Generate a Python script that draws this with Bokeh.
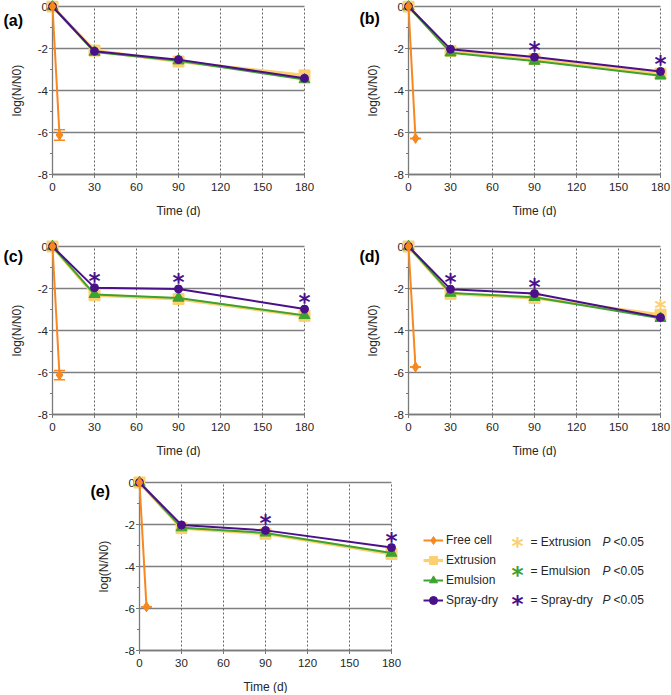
import math
from bokeh.plotting import figure
from bokeh.models import Range1d, ColumnDataSource, Whisker, TeeHead, Legend, LegendItem
from bokeh.layouts import column, row
from bokeh.core.properties import value
from bokeh.embed import file_html
from bokeh.resources import INLINE

# ---------------- data ----------------
TIME = [0, 30, 90, 180]
FREE_TIME = [0, 5]
XTICKS = [0, 30, 60, 90, 120, 150, 180]
YTICKS = [0, -2, -4, -6, -8]
YMINOR = [-1, -3, -5, -7]
SERIES = ["Free cell", "Extrusion", "Emulsion", "Spray-dry"]
PANELS = ["(a)", "(b)", "(c)", "(d)", "(e)"]
XLABEL = "Time (d)"
YLABEL = "log(N/N0)"

A_FREE = [0, -6.12]
A_FREE_ERR = [0, 0.25]
A_EXTR = [0, -2.10, -2.62, -3.28]
A_EMUL = [0, -2.17, -2.58, -3.48]
A_SPRAY = [0, -2.13, -2.53, -3.42]
A_STAR_TIMES = []
A_STAR_SERIES = []

B_FREE = [0, -6.28]
B_FREE_ERR = [0, 0.0]
B_EXTR = [0, -2.12, -2.50, -3.20]
B_EMUL = [0, -2.20, -2.60, -3.30]
B_SPRAY = [0, -2.03, -2.41, -3.09]
B_STAR_TIMES = [90, 180]
B_STAR_SERIES = ["Spray-dry", "Spray-dry"]

C_FREE = [0, -6.12]
C_FREE_ERR = [0, 0.22]
C_EXTR = [0, -2.32, -2.50, -3.30]
C_EMUL = [0, -2.28, -2.45, -3.28]
C_SPRAY = [0, -1.96, -2.02, -2.98]
C_STAR_TIMES = [30, 90, 180]
C_STAR_SERIES = ["Spray-dry", "Spray-dry", "Spray-dry"]

D_FREE = [0, -5.74]
D_FREE_ERR = [0, 0.0]
D_EXTR = [0, -2.25, -2.45, -3.25]
D_EMUL = [0, -2.22, -2.42, -3.42]
D_SPRAY = [0, -2.03, -2.24, -3.38]
D_STAR_TIMES = [30, 90, 180]
D_STAR_SERIES = ["Spray-dry", "Spray-dry", "Extrusion"]

E_FREE = [0, -5.92]
E_FREE_ERR = [0, 0.0]
E_EXTR = [0, -2.17, -2.44, -3.40]
E_EMUL = [0, -2.15, -2.40, -3.36]
E_SPRAY = [0, -2.02, -2.28, -3.10]
E_STAR_TIMES = [90, 180]
E_STAR_SERIES = ["Spray-dry", "Spray-dry"]

STAR_LEGEND = ["= Extrusion", "= Emulsion", "= Spray-dry"]
STAR_LEGEND_SERIES = ["Extrusion", "Emulsion", "Spray-dry"]
P_TEXT = "P"
P_VALUE = "<0.05"

# ---------------- style ----------------
COL = {"Free cell": "#F7881F", "Extrusion": "#FCD06E", "Emulsion": "#3DA22F", "Spray-dry": "#4A108A"}
FONT = "Liberation Sans"
STAR_FONT = "DejaVu Sans"
AXIS_COL = "#7a7a7a"
GRID_COL = "#7f7f7f"
TEXT_COL = "#262626"
PXX = 1.4      # px per day
PXY = 21.0     # px per log unit
BOTTOM = 43    # px below the x axis
STAR_SIZE = "23px"
STAR_DY = -7


def make_panel(letter, free, free_err, extr, emul, spray, star_t, star_s,
               left_px, right_px, top_px, letter_dy):
    fw = left_px + 180 * PXX + right_px
    fh = top_px + 8 * PXY + BOTTOM
    p = figure(width=int(round(fw)), height=int(round(fh)),
               x_range=Range1d(-left_px / PXX, 180 + right_px / PXX),
               y_range=Range1d(-8 - BOTTOM / PXY, top_px / PXY),
               output_backend="svg", toolbar_location=None,
               x_axis_location=None, y_axis_location=None,
               min_border_left=0, min_border_right=0, min_border_top=0,
               min_border_bottom=0)
    p.outline_line_color = None
    p.grid.visible = False
    p.background_fill_color = "white"

    x0, x1 = XTICKS[0], XTICKS[-1]
    y0, y1 = YTICKS[-1], YTICKS[0]
    nx, ny = len(XTICKS), len(YTICKS)
    # grid lines from tick arrays
    p.segment(x0=[x0] * ny, x1=[x1] * ny, y0=YTICKS, y1=YTICKS,
              line_color=GRID_COL, line_width=1.3)
    p.segment(x0=XTICKS[1:], x1=XTICKS[1:], y0=[y0] * (nx - 1), y1=[y1] * (nx - 1),
              line_color="#555555", line_width=0.9, line_dash="2 2")
    # y axis at x = 0
    p.segment(x0=[x0], x1=[x0], y0=[y0], y1=[y1], line_color=AXIS_COL, line_width=1.3)
    p.ray(x=[x0] * ny, y=YTICKS, length=3.5, length_units="screen",
          angle=math.pi, line_color=AXIS_COL, line_width=1)
    p.ray(x=[x0] * len(YMINOR), y=YMINOR, length=2.5, length_units="screen",
          angle=math.pi, line_color=AXIS_COL, line_width=1)
    p.text(x=[x0] * ny, y=YTICKS, text=[str(t) for t in YTICKS],
           x_offset=-4.5, text_align="right", text_baseline="middle",
           text_font=value(FONT), text_font_size="11.5px", text_color=TEXT_COL)
    p.text(x=[x0], y=[(y0 + y1) / 2], text=[YLABEL], x_offset=-36, angle=math.pi / 2,
           text_align="center", text_baseline="middle",
           text_font=value(FONT), text_font_size="12px", text_color=TEXT_COL)
    # x axis at y = -8
    p.segment(x0=[x0], x1=[x1], y0=[y0], y1=[y0], line_color=AXIS_COL, line_width=1.3)
    p.ray(x=XTICKS, y=[y0] * nx, length=3.5, length_units="screen",
          angle=-math.pi / 2, line_color=AXIS_COL, line_width=1)
    p.text(x=XTICKS, y=[y0] * nx, text=[str(t) for t in XTICKS], y_offset=12,
           text_align="center", text_baseline="middle",
           text_font=value(FONT), text_font_size="11.5px", text_color=TEXT_COL)
    p.text(x=[(x0 + x1) / 2], y=[y0], text=[XLABEL], y_offset=36,
           text_align="center", text_baseline="middle",
           text_font=value(FONT), text_font_size="12px", text_color=TEXT_COL)
    # panel letter
    p.text(x=[x0], y=[y1], text=[letter], x_offset=-49, y_offset=letter_dy,
           text_align="left", text_baseline="middle",
           text_font=value(FONT), text_font_size="16px", text_font_style="bold",
           text_color="black")

    vals = {"Free cell": free, "Extrusion": extr, "Emulsion": emul, "Spray-dry": spray}
    rends = {}
    r1 = p.line(TIME, extr, line_color=COL["Extrusion"], line_width=3.2)
    r2 = p.scatter(TIME, extr, marker="square", size=11, fill_color=COL["Extrusion"],
                   line_color=COL["Extrusion"])
    rends["Extrusion"] = [r1, r2]
    r1 = p.line(TIME, emul, line_color=COL["Emulsion"], line_width=2)
    r2 = p.scatter(TIME, emul, marker="triangle", size=11, fill_color=COL["Emulsion"],
                   line_color=COL["Emulsion"])
    rends["Emulsion"] = [r1, r2]
    r1 = p.line(TIME, spray, line_color=COL["Spray-dry"], line_width=2)
    r2 = p.scatter(TIME, spray, marker="circle", size=8, fill_color=COL["Spray-dry"],
                   line_color=COL["Spray-dry"])
    rends["Spray-dry"] = [r1, r2]
    r1 = p.line(FREE_TIME, free, line_color=COL["Free cell"], line_width=2)
    r2 = p.scatter(FREE_TIME, free, marker="diamond", size=10, fill_color=COL["Free cell"],
                   line_color=COL["Free cell"])
    rends["Free cell"] = [r1, r2]

    wsrc = ColumnDataSource(dict(base=FREE_TIME,
                                 upper=[v + e for v, e in zip(free, free_err)],
                                 lower=[v - e for v, e in zip(free, free_err)]))
    p.add_layout(Whisker(source=wsrc, base="base", upper="upper", lower="lower",
                         line_color=COL["Free cell"], line_width=1.5,
                         upper_head=TeeHead(size=11, line_color=COL["Free cell"], line_width=1.5),
                         lower_head=TeeHead(size=11, line_color=COL["Free cell"], line_width=1.5)))

    if star_t:
        sy = [vals[s][TIME.index(t)] for t, s in zip(star_t, star_s)]
        ssrc = ColumnDataSource(dict(x=star_t, y=sy, c=[COL[s] for s in star_s],
                                     t=["*"] * len(star_t)))
        p.text(x="x", y="y", text="t", source=ssrc, text_color="c",
               text_font_size=STAR_SIZE, text_font_style="bold", text_align="center",
               text_baseline="middle", y_offset=STAR_DY, text_font=value(STAR_FONT))
    return p, rends


pa, _ = make_panel(PANELS[0], A_FREE, A_FREE_ERR, A_EXTR, A_EMUL, A_SPRAY, A_STAR_TIMES,
                   A_STAR_SERIES, 52, 52, 6, 14)
pb, _ = make_panel(PANELS[1], B_FREE, B_FREE_ERR, B_EXTR, B_EMUL, B_SPRAY, B_STAR_TIMES,
                   B_STAR_SERIES, 52, 10, 6, 12)
pc, _ = make_panel(PANELS[2], C_FREE, C_FREE_ERR, C_EXTR, C_EMUL, C_SPRAY, C_STAR_TIMES,
                   C_STAR_SERIES, 52, 52, 29, 10)
pd, _ = make_panel(PANELS[3], D_FREE, D_FREE_ERR, D_EXTR, D_EMUL, D_SPRAY, D_STAR_TIMES,
                   D_STAR_SERIES, 52, 10, 29, 10)
pe, rends = make_panel(PANELS[4], E_FREE, E_FREE_ERR, E_EXTR, E_EMUL, E_SPRAY, E_STAR_TIMES,
                       E_STAR_SERIES, 139, 279, 25, 9)

legend = Legend(items=[LegendItem(label=s, renderers=rends[s]) for s in SERIES],
                location=(423, 40 + BOTTOM), orientation="vertical",
                label_text_font=FONT, label_text_font_size="12px", label_text_color=TEXT_COL,
                glyph_width=20, glyph_height=20, label_height=16, label_standoff=3,
                spacing=0, padding=2, margin=0, border_line_color=None,
                background_fill_alpha=0)
pe.add_layout(legend, "center")

# significance key (text glyphs placed relative to the right end of the x axis)
ROW_DY = [-109, -79.5, -51]
n = len(STAR_LEGEND)
xr = [XTICKS[-1]] * n
yb = [YTICKS[-1]] * n
pe.text(x=xr, y=yb, text=["*"] * n, x_offset=126, y_offset=[d + 4 for d in ROW_DY],
        text_color=[COL[s] for s in STAR_LEGEND_SERIES], text_font=value(STAR_FONT),
        text_font_size=STAR_SIZE, text_font_style="bold", text_align="center",
        text_baseline="middle")
pe.text(x=xr, y=yb, text=STAR_LEGEND, x_offset=139, y_offset=ROW_DY,
        text_color=TEXT_COL, text_font=value(FONT), text_font_size="12px",
        text_align="left", text_baseline="middle")
pe.text(x=xr, y=yb, text=[P_TEXT] * n, x_offset=211, y_offset=ROW_DY,
        text_color=TEXT_COL, text_font=value(FONT), text_font_size="12px",
        text_font_style="italic", text_align="left", text_baseline="middle")
pe.text(x=xr, y=yb, text=[P_VALUE] * n, x_offset=222, y_offset=ROW_DY,
        text_color=TEXT_COL, text_font=value(FONT), text_font_size="12px",
        text_align="left", text_baseline="middle")

layout = column(row(pa, pb, spacing=0), row(pc, pd, spacing=0), pe, spacing=0)
open("out.html", "w").write(file_html(layout, INLINE))
